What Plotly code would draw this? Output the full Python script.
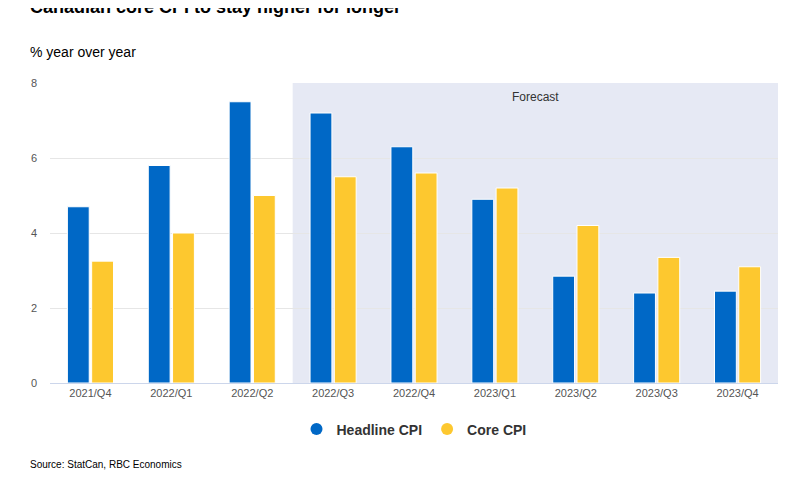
import plotly.graph_objects as go

quarters = ["2021/Q4", "2022/Q1", "2022/Q2", "2022/Q3", "2022/Q4",
            "2023/Q1", "2023/Q2", "2023/Q3", "2023/Q4"]
headline = [4.7, 5.8, 7.5, 7.2, 6.3, 4.9, 2.85, 2.4, 2.45]
core = [3.25, 4.0, 5.0, 5.5, 5.6, 5.2, 4.2, 3.35, 3.1]

blue, yellow = "#0068c6", "#fdc82f"

fig = go.Figure()
fig.add_bar(x=quarters, y=headline, name="Headline CPI", marker_color=blue,
            marker_line_color="white", marker_line_width=1, showlegend=False)
fig.add_bar(x=quarters, y=core, name="Core CPI", marker_color=yellow,
            marker_line_color="white", marker_line_width=1, showlegend=False)
# legend entries with round markers
fig.add_scatter(x=[None], y=[None], mode="markers", name="<b>Headline CPI</b>",
                marker=dict(color=blue, size=14, symbol="circle"))
fig.add_scatter(x=[None], y=[None], mode="markers", name="<b>Core CPI</b>",
                marker=dict(color=yellow, size=14, symbol="circle"))

fig.add_shape(type="rect", xref="x", yref="paper", x0=2.5, x1=8.5, y0=0, y1=1,
              fillcolor="#e6e9f4", line_width=0, layer="below")
fig.add_annotation(x=5.5, xref="x", y=0.985, yref="paper", text="Forecast",
                   showarrow=False, yanchor="top", font=dict(size=12, color="#333"))

fig.add_annotation(x=0, xref="paper", y=1.255, yref="paper", text="<b>Canadian core CPI to stay higher for longer</b>",
                   showarrow=False, xanchor="left", yanchor="middle", font=dict(size=18, color="#000"), xshift=-22)
fig.add_annotation(x=0, xref="paper", y=1.105, yref="paper", text="% year over year",
                   showarrow=False, xanchor="left", yanchor="middle", font=dict(size=14, color="#000"), xshift=-22)
fig.add_annotation(x=0, xref="paper", y=-0.27, yref="paper", text="Source: StatCan, RBC Economics",
                   showarrow=False, xanchor="left", yanchor="middle", font=dict(size=10, color="#000"), xshift=-22)

fig.update_layout(
    width=796, height=478,
    margin=dict(l=42, r=26, t=75, b=103),
    paper_bgcolor="white", plot_bgcolor="white",
    font=dict(family="Liberation Sans, Arial, sans-serif", color="#333"),
    barmode="group", bargap=0.4, bargroupgap=0.1,
    showlegend=True,
    legend=dict(orientation="h", x=0.5, xanchor="center", y=-0.155, yanchor="middle",
                font=dict(size=14, color="#333"), itemsizing="constant"),
    xaxis=dict(showline=True, linecolor="#ccd6eb", ticks="", tickfont=dict(size=11, color="#555"),
               range=[-0.5, 8.5], automargin=False),
    yaxis=dict(range=[0, 8], dtick=2, gridcolor="#e6e6e6", tickfont=dict(size=11, color="#555"),
               zeroline=False, ticklabelstandoff=12, automargin=False),
)

fig.write_html("out.html")
